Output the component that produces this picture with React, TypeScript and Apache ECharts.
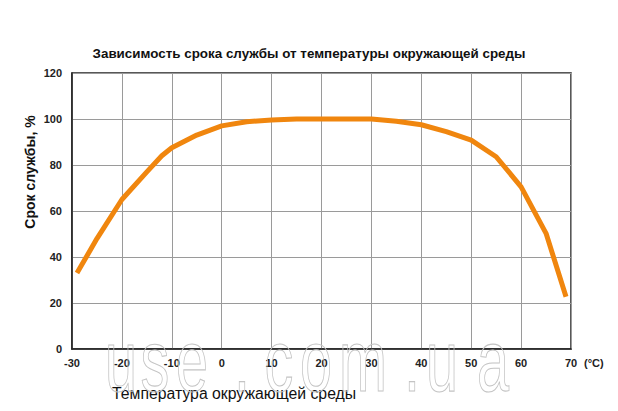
import React, { useEffect, useRef } from "react";
import * as echarts from "echarts";

const TITLE = "Зависимость срока службы от температуры окружающей среды";
const X_NAME = "Температура окружающей среды";
const Y_NAME = "Срок службы, %";
const X_UNIT = "(°C)";
const WATERMARK = "use.com.ua";

const temperature = [-29, -25, -20, -15, -12, -10, -5, 0, 5, 10, 15, 20, 25, 30, 35, 40, 45, 50, 55, 60, 65, 69];
const lifePct = [33, 48, 65, 77, 84, 87.5, 93, 97, 98.8, 99.6, 100, 100, 100, 100, 99, 97.5, 94.5, 90.8, 83.6, 70.5, 50.3, 22.7];

const FONT = "'Liberation Sans', Arial, sans-serif";

export default function App() {
  const ref = useRef<HTMLDivElement>(null);

  useEffect(() => {
    if (!ref.current) return;
    const chart = echarts.init(ref.current, undefined, { renderer: "svg" });
    const wmCenters = [121, 155, 192, 242, 279, 316, 363, 412, 442, 493];
    const wm = WATERMARK.split("").map((ch, i) => ({
      type: "text",
      x: wmCenters[i],
      y: 362,
      scaleX: 0.9,
      scaleY: 1.35,
      z: 1,
      silent: true,
      style: {
        text: ch,
        fontSize: 64,
        fontFamily: FONT,
        fill: "rgba(255,255,255,0)",
        stroke: "#c4c4c4",
        lineWidth: 0.8,
        align: "center",
        verticalAlign: "middle",
      },
    }));
    chart.setOption({
      animation: false,
      backgroundColor: "#ffffff",
      title: {
        text: TITLE,
        left: "center",
        top: 42,
        textStyle: { fontSize: 13.4, fontWeight: "bold", color: "#111", fontFamily: FONT },
      },
      grid: {
        left: 72,
        right: 47,
        top: 73,
        bottom: 62,
        show: true,
        borderColor: "#222",
        borderWidth: 1.5,
        backgroundColor: "rgba(0,0,0,0)",
      },
      xAxis: {
        type: "value",
        min: -30,
        max: 70,
        interval: 10,
        axisLine: { show: true, onZero: false, lineStyle: { color: "#222", width: 1.5 } },
        axisTick: { show: false },
        splitLine: { show: true, lineStyle: { color: "#9a9a9a", width: 1 } },
        axisLabel: { fontSize: 11, fontWeight: "bold", color: "#222", fontFamily: FONT, margin: 8 },
      },
      yAxis: {
        type: "value",
        min: 0,
        max: 120,
        interval: 20,
        axisLine: { show: true, onZero: false, lineStyle: { color: "#222", width: 1.5 } },
        axisTick: { show: false },
        splitLine: { show: true, lineStyle: { color: "#9a9a9a", width: 1 } },
        axisLabel: { fontSize: 11, fontWeight: "bold", color: "#222", fontFamily: FONT, margin: 10, padding: [4, 0, 0, 0] },
      },
      series: [
        {
          type: "line",
          data: temperature.map((t, i) => [t, lifePct[i]]),
          symbol: "none",
          smooth: false,
          lineStyle: { color: "#F0860E", width: 5, cap: "butt", join: "round" },
          z: 3,
        },
      ],
      graphic: [
        ...wm,
        {
          type: "text",
          x: 30,
          y: 172,
          rotation: Math.PI / 2,
          style: {
            text: Y_NAME,
            fontSize: 14,
            fontWeight: "bold",
            fontFamily: FONT,
            fill: "#111",
            align: "center",
            verticalAlign: "middle",
          },
        },
        {
          type: "text",
          x: 112,
          y: 393,
          style: {
            text: X_NAME,
            fontSize: 15.8,
            fontFamily: FONT,
            fill: "#111",
            align: "left",
            verticalAlign: "middle",
          },
        },
        {
          type: "text",
          x: 584,
          y: 363,
          style: {
            text: X_UNIT,
            fontSize: 11,
            fontWeight: "bold",
            fontFamily: FONT,
            fill: "#222",
            align: "left",
            verticalAlign: "middle",
          },
        },
      ],
    });
    return () => chart.dispose();
  }, []);

  return (
    <div
      ref={ref}
      style={{ position: "fixed", left: 0, top: 0, width: 618, height: 411 }}
    />
  );
}
